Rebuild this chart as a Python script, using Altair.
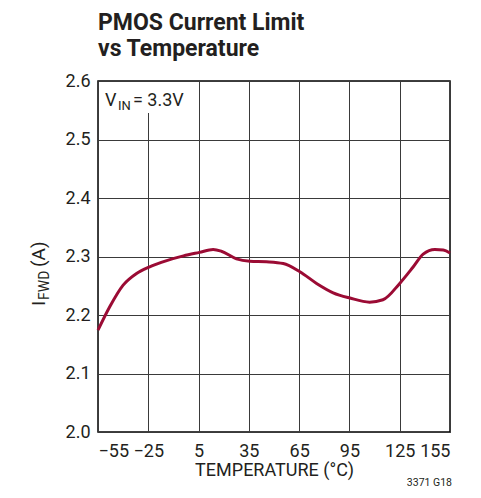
import altair as alt
import pandas as pd

# ---- data ----
temperature = [-55, -48, -40, -32, -24.5, -14, -4, 5.5, 13.7, 18.6, 27.6, 35.6, 45.5,
               55.5, 65.4, 75.4, 85.3, 95.3, 107, 115, 125, 133, 139, 146, 151, 155]
current = [2.174, 2.214, 2.251, 2.271, 2.282, 2.293, 2.301, 2.307, 2.312, 2.309, 2.296,
           2.292, 2.291, 2.288, 2.274, 2.254, 2.238, 2.229, 2.222, 2.226, 2.254, 2.282,
           2.304, 2.312, 2.311, 2.306]
x_ticks = [-55, -25, 5, 35, 65, 95, 125, 155]
y_ticks = [2.0, 2.1, 2.2, 2.3, 2.4, 2.5, 2.6]

title_lines = ["PMOS Current Limit", "vs Temperature"]
x_title = "TEMPERATURE (°C)"
y_title_parts = ["I", "FWD", "(A)"]
vin_parts = ["V", "IN", "= 3.3V"]
footnote = "3371 G18"

FONT = "Roboto"
INK = "#231f20"
W, H = 352, 351

df = pd.DataFrame({"T": temperature, "I": current})

line = alt.Chart(df).mark_line(color="#9b0b34", strokeWidth=3, interpolate="monotone").encode(
    x=alt.X("T:Q", scale=alt.Scale(domain=[-55, 155], nice=False),
            axis=alt.Axis(values=x_ticks, title=x_title, labelPadding=24,
                          labelBaseline="alphabetic", titleBaseline="alphabetic", titleY=43)),
    y=alt.Y("I:Q", scale=alt.Scale(domain=[2.0, 2.6], nice=False, zero=False),
            axis=alt.Axis(values=y_ticks, format=".1f", title=None, labelPadding=8)),
)


def txt(s, x, y, size, weight="normal", align="left", angle=0, baseline="alphabetic"):
    return alt.Chart(pd.DataFrame({"t": [s]})).mark_text(
        font=FONT, fontSize=size, fontWeight=weight, align=align, baseline=baseline,
        angle=angle, color=INK
    ).encode(text="t:N", x=alt.value(x), y=alt.value(y))


title = alt.Chart(pd.DataFrame({"a": [0]})).mark_text(
    font=FONT, fontSize=23, fontWeight="bold", align="left", baseline="alphabetic",
    lineHeight=26, color=INK
).encode(text=alt.value(title_lines), x=alt.value(0), y=alt.value(-51))

box = alt.Chart(pd.DataFrame({"a": [0]})).mark_rect(fill="white").encode(
    x=alt.value(1), x2=alt.value(88), y=alt.value(1), y2=alt.value(32)
)

layers = [
    box,
    line,
    title,
    txt(vin_parts[0], 7, 25, 18),
    txt(vin_parts[1], 20, 29, 13),
    txt(vin_parts[2], 35, 25, 18),
    txt(y_title_parts[0], -53, 225, 19, angle=270),
    txt(y_title_parts[1], -49, 219, 14, angle=270),
    txt(y_title_parts[2], -53, 186, 19, angle=270),
    txt(footnote, 354, 405, 10.5, align="right"),
]

chart = alt.layer(*layers).properties(
    width=W, height=H,
    autosize=alt.AutoSizeParams(type="none"),
    padding={"left": 90, "top": 73, "right": 23, "bottom": 58},
).configure_view(stroke="black", strokeWidth=1.5).configure_axis(
    grid=True, gridColor="#3a3a3a", gridWidth=1, gridOpacity=1,
    domain=False, ticks=False, tickSize=0,
    labelFont=FONT, labelFontSize=18, labelColor=INK,
    titleFont=FONT, titleFontSize=18, titleColor=INK, titleFontWeight="normal",
)

chart.save("out.html", embed_options={"renderer": "svg", "actions": False})
